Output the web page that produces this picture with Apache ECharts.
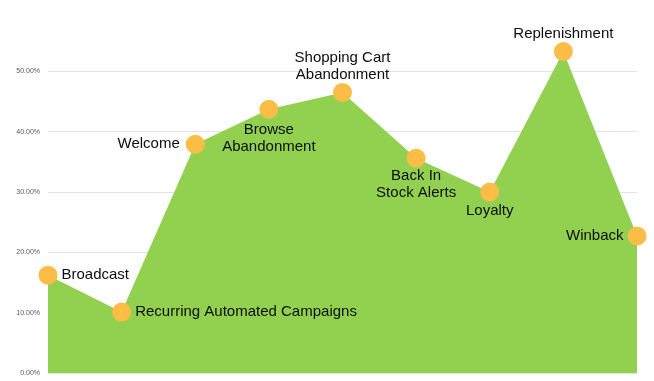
<!DOCTYPE html>
<html><head><meta charset="utf-8">
<script src="https://cdn.jsdelivr.net/npm/echarts@6/dist/echarts.min.js"></script>
<style>html,body{margin:0;padding:0;background:#fff}#c{width:654px;height:381px}</style>
</head><body><div id="c"></div>
<script>
const categories = ['Broadcast','Recurring Automated Campaigns','Welcome','Browse\nAbandonment','Shopping Cart\nAbandonment','Back In\nStock Alerts','Loyalty','Replenishment','Winback'];
const values = [0.162, 0.101, 0.379, 0.437, 0.465, 0.356, 0.300, 0.533, 0.227];
const labelPositions = ['right','right','left','bottom','top','bottom','bottom','top','left'];
const labelDistances = [4, 4, 6, 3, 0, 0, 1, 0, 4];
const yTicks = [0, 0.1, 0.2, 0.3, 0.4, 0.5];

const chart = echarts.init(document.getElementById('c'));
chart.setOption({
  animation: false,
  grid: {left: 48, right: 17, top: 11, bottom: 8, containLabel: false},
  xAxis: {
    type: 'category', data: categories, boundaryGap: false,
    axisLine: {show: false}, axisTick: {show: false}, axisLabel: {show: false}, splitLine: {show: false}
  },
  yAxis: {
    type: 'value', min: 0, max: 0.6, interval: 0.1,
    axisLine: {show: false}, axisTick: {show: false},
    axisLabel: {
      showMaxLabel: false, color: '#595959', fontSize: 7, margin: 8,
      fontFamily: 'Liberation Sans, Arial',
      formatter: v => yTicks.some(t => Math.abs(t - v) < 1e-9) ? (v * 100).toFixed(2) + '%' : ''
    },
    splitLine: {show: true, showMaxLine: false, lineStyle: {color: '#e3e3e3', width: 1}}
  },
  series: [{
    type: 'line',
    data: values.map((v, i) => ({
      value: v,
      label: {position: labelPositions[i], distance: labelDistances[i]}
    })),
    symbol: 'circle', symbolSize: 19,
    itemStyle: {color: '#fbbd46'},
    lineStyle: {width: 0},
    areaStyle: {color: '#92d050', opacity: 1},
    label: {
      show: true,
      formatter: p => categories[p.dataIndex],
      color: '#0d0d0d', fontSize: 15, lineHeight: 17,
      fontFamily: 'Liberation Sans, Arial'
    }
  }]
});
</script></body></html>
